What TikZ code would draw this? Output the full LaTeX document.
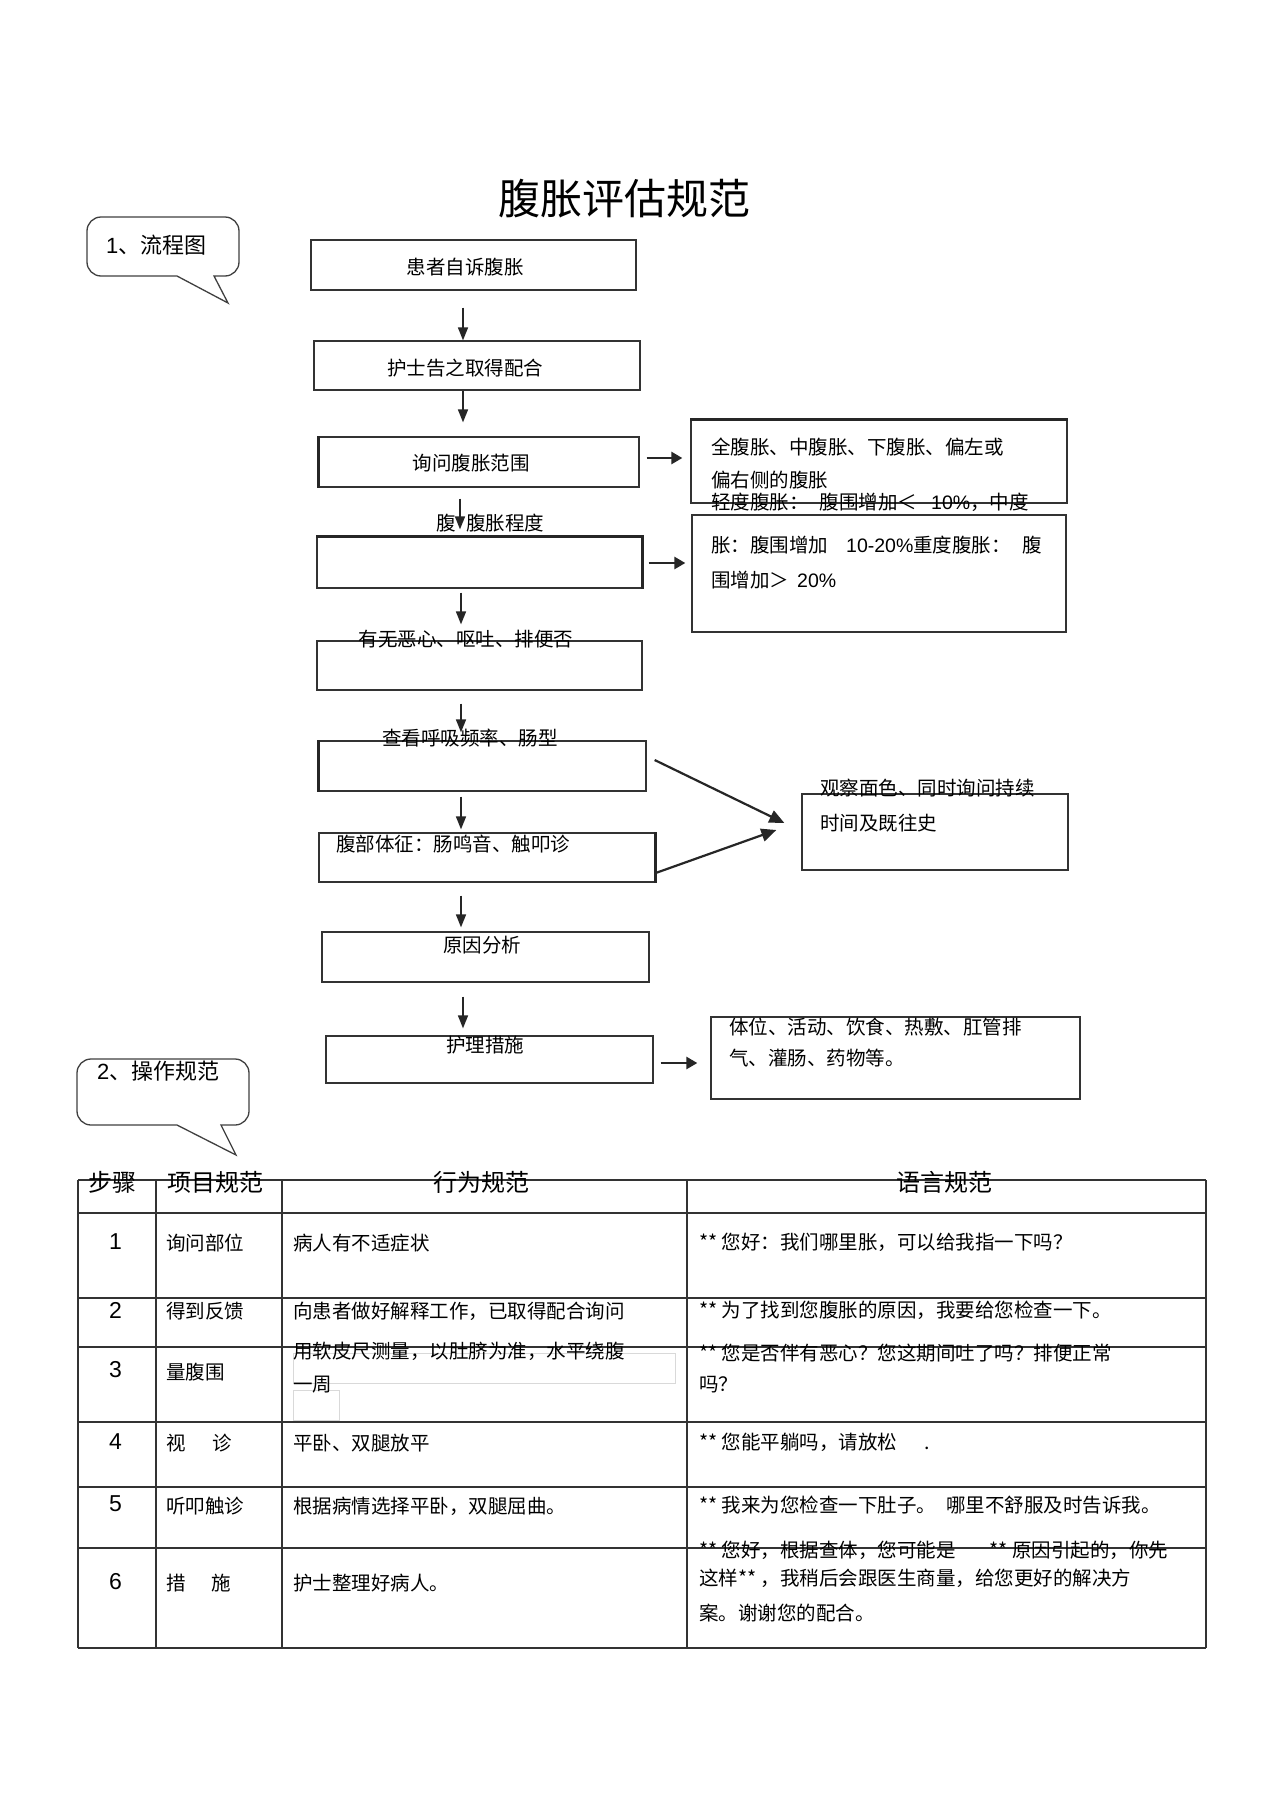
\documentclass[tikz,border=0pt]{standalone}
\usepackage{fontspec}
\setmainfont{Noto Sans CJK SC}
\newfontfamily\lat{Liberation Sans}
\usetikzlibrary{arrows.meta,calc}
\pgfdeclarelayer{bg}
\pgfsetlayers{bg,main}
\tikzset{
    every node/.style={inner sep=0pt, font=\fontsize{19.5}{24}\selectfont},
    box/.style 2 args={draw=black!80, line width=1.3pt, minimum width=#1pt, minimum height=#2pt},
    lft/.style={anchor=west},
    head/.style={font=\fontsize{24}{28}\selectfont},
    num/.style={font=\lat\fontsize{23}{26}\selectfont},
    bubble/.style={draw=black!75, line width=1.3pt},
    arr/.style={draw=black!85, line width=1.6pt, -{Triangle[width=10pt,length=13pt]}},
    harr/.style={draw=black!85, line width=2.6pt, -{Triangle[width=12pt,length=11pt]}},
    darr/.style={draw=black!85, line width=2.2pt, -{Triangle[width=13pt,length=15pt]}},
    grid/.style={draw=black!80, line width=1.5pt},
    thickedge/.style={draw=black!85, line width=2.8pt}
}

\begin{document}
\begin{tikzpicture}[x=1pt, y=-1pt]
    \begin{pgfonlayer}{bg}
        \fill[white] (0,0) rectangle (1274,1804);
    \end{pgfonlayer}

    \node (title) [font=\fontsize{42}{48}\selectfont] at (624,199) {腹胀评估规范};

    % section bubbles
    \draw[bubble] (177,276) [rounded corners=14pt] -- (87,276) -- (87,217) -- (239,217) -- (239,276) [sharp corners] -- (214,276) -- (228,303) -- cycle;
    \node (cap1) [lft, font=\fontsize{22}{26}\selectfont] at (106,245) {{\lat 1}、流程图};
    \draw[bubble] (177,1125) [rounded corners=14pt] -- (77,1125) -- (77,1059) -- (249,1059) -- (249,1125) [sharp corners] -- (221,1125) -- (236,1155) -- cycle;
    \node (cap2) [lft, font=\fontsize{22}{26}\selectfont] at (97,1071) {{\lat 2}、操作规范};

    % flow boxes
    \node (b1) [box={325}{50}] at (473.5,265) {};
    \node (b2) [box={326}{49}] at (477,365.5) {};
    \node (b3) [box={320}{50}] at (479,462) {};
    \node (b4) [box={325}{51}] at (479.5,562.5) {};
    \node (b5) [box={325}{49}] at (479.5,665.5) {};
    \node (b6) [box={327}{50}] at (482.5,766) {};
    \node (b7) [box={336}{49}] at (487,857.5) {};
    \node (b8) [box={327}{50}] at (485.5,957) {};
    \node (b9) [box={327}{47}] at (489.5,1059.5) {};

    \node (r1) [box={376}{83}] at (879,461.5) {};
    \node (r2) [box={374}{117}] at (879,573.5) {};
    \node (r3) [box={266}{76}] at (935,832) {};
    \node (r4) [box={369}{82}] at (895.5,1058) {};

    \draw[thickedge] (b3.north west) -- (b3.south west);
    \draw[thickedge] (b4.north west) -- (b4.north east) -- (b4.south east);
    \draw[thickedge] (b6.north west) -- (b6.south west);
    \draw[thickedge] (b7.north east) -- (b7.south east);
    \draw[thickedge] (r1.north west) -- (r1.north east);

    % flow texts
    \node (t1) at (465,267) {患者自诉腹胀};
    \node (t2) at (465,368) {护士告之取得配合};
    \node (t3) at (471,463) {询问腹胀范围};
    \node (t4) [lft] at (436,523) {腹\hspace{10.5pt}腹胀程度};
    \node (t5) at (466,639) {有无恶心、呕吐、排便否};
    \node (t6) at (470,738) {查看呼吸频率、肠型};
    \node (t7) [lft] at (336,844) {腹部体征：肠鸣音、触叩诊};
    \node (t8) at (482,945) {原因分析};
    \node (t9) at (485,1045) {护理措施};

    \node (r1a) [lft] at (711,447) {全腹胀、中腹胀、下腹胀、偏左或};
    \node (r1b) [lft] at (711,480) {偏右侧的腹胀};
    \node (r2a) [lft] at (711,502) {轻度腹胀：\hspace{11pt}腹围增加＜\hspace{14pt}{\lat 10\%}，中度};
    \node (r2b) [lft] at (711,545) {胀：腹围增加\hspace{18pt}{\lat 10-20\%}重度腹胀：\hspace{12pt}腹};
    \node (r2c) [lft] at (711,580) {围增加＞\hspace{8pt}{\lat 20\%}};
    \node (r3a) [lft] at (820,788) {观察面色、同时询问持续};
    \node (r3b) [lft] at (820,823) {时间及既往史};
    \node (r4a) [lft] at (729,1027) {体位、活动、饮食、热敷、肛管排};
    \node (r4b) [lft] at (729,1058) {气、灌肠、药物等。};

    \begin{pgfonlayer}{bg}
        \draw[arr, shorten <=17pt] (b1.south -| 463,0) -- (b2.north -| 463,0);
        \draw[arr, shorten >=14pt] (b2.south -| 463,0) -- (b3.north -| 463,0);
        \draw[arr, shorten <=11pt, shorten >=7pt] (b3.south -| 460,0) -- (b4.north -| 460,0);
        \draw[arr, shorten <=4pt, shorten >=16pt] (b4.south -| 461,0) -- (b5.north -| 461,0);
        \draw[arr, shorten <=13pt, shorten >=8pt] (b5.south -| 461,0) -- (b6.north -| 461,0);
        \draw[arr, shorten <=5pt, shorten >=3pt] (b6.south -| 461,0) -- (b7.north -| 461,0);
        \draw[arr, shorten <=13pt, shorten >=4pt] (b7.south -| 461,0) -- (b8.north -| 461,0);
        \draw[arr, shorten <=14pt, shorten >=7pt] (b8.south -| 463,0) -- (b9.north -| 463,0);

        \draw[harr, shorten <=7pt, shorten >=8pt] (b3.east |- 0,458) -- (r1.west |- 0,458);
        \draw[harr, shorten <=6pt, shorten >=6pt] (b4.east |- 0,563) -- (r2.west |- 0,563);
        \draw[harr, shorten <=7pt, shorten >=13pt] (b9.east |- 0,1063) -- (r4.west |- 0,1063);

        \draw[darr] ($(b6.east)+(8,-6)$) -- ($(r3.west)+(-17,-9)$);
        \draw[darr] ($(b7.south east)+(1,-10)$) -- ($(r3.west)+(-25,-2)$);
    \end{pgfonlayer}

    % table
    \draw[gray!30, line width=1pt] (293,1353) rectangle (675,1383);
    \draw[gray!30, line width=1pt] (293,1390) rectangle (339,1420);
    \foreach \y in {1180,1213,1298,1347,1422,1487,1548,1648}
        \draw[grid] (78,\y) -- (1206,\y);
    \foreach \x in {78,156,282,687,1206}
        \draw[grid] (\x,1180) -- (\x,1648);

    \node (h1) [head] at (112,1182) {步骤};
    \node (h2) [head] at (215,1182) {项目规范};
    \node (h3) [head] at (481,1182) {行为规范};
    \node (h4) [head] at (944,1182) {语言规范};

    \node (n1) [num] at (115.5,1242) {1};
    \node (n2) [num] at (115.5,1310) {2};
    \node (n3) [num] at (115.5,1370) {3};
    \node (n4) [num] at (115.5,1442) {4};
    \node (n5) [num] at (115.5,1504) {5};
    \node (n6) [num] at (115.5,1582) {6};

    \node (p1) [lft] at (166,1243) {询问部位};
    \node (p2) [lft] at (166,1311) {得到反馈};
    \node (p3) [lft] at (166,1372) {量腹围};
    \node (p4) [lft] at (166,1443) {视\hspace{1.4em}诊};
    \node (p5) [lft] at (166,1506) {听叩触诊};
    \node (p6) [lft] at (166,1583) {措\hspace{1.3em}施};

    \node (a1) [lft] at (293,1243) {病人有不适症状};
    \node (a2) [lft] at (293,1311) {向患者做好解释工作，已取得配合询问};
    \node (a3) [lft] at (293,1351) {用软皮尺测量，以肚脐为准，水平绕腹};
    \node (a3b) [lft] at (293,1385) {一周};
    \node (a4) [lft] at (293,1443) {平卧、双腿放平};
    \node (a5) [lft] at (293,1506) {根据病情选择平卧，双腿屈曲。};
    \node (a6) [lft] at (293,1583) {护士整理好病人。};

    \node (s1) [lft] at (699,1242) {** 您好：我们哪里胀，可以给我指一下吗？};
    \node (s2) [lft] at (699,1310) {** 为了找到您腹胀的原因，我要给您检查一下。};
    \node (s3) [lft] at (699,1353) {** 您是否伴有恶心？您这期间吐了吗？排便正常};
    \node (s3b) [lft] at (699,1385) {吗？};
    \node (s4) [lft] at (699,1442) {** 您能平躺吗，请放松\hspace{27pt}.};
    \node (s5) [lft] at (699,1505) {** 我来为您检查一下肚子。\hspace{10pt}哪里不舒服及时告诉我。};
    \node (s6) [lft] at (699,1550) {** 您好，根据查体，您可能是\hspace{34pt}** 原因引起的，你先};
    \node (s6b) [lft] at (699,1578) {这样** ，我稍后会跟医生商量，给您更好的解决方};
    \node (s6c) [lft] at (699,1613) {案。谢谢您的配合。};
\end{tikzpicture}
\end{document}
